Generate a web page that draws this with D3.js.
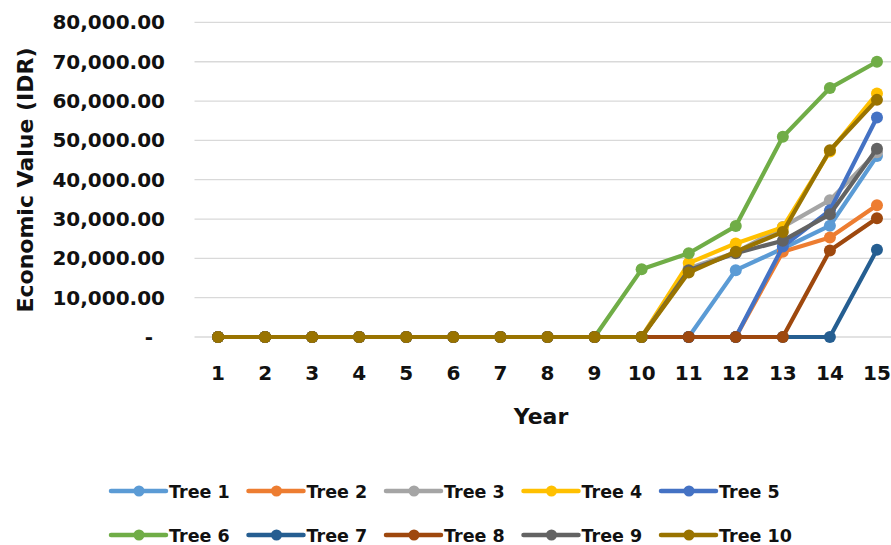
<!DOCTYPE html>
<html>
<head>
<meta charset="utf-8">
<script src="https://cdn.jsdelivr.net/npm/d3@7"></script>
<style>
  html, body { margin: 0; padding: 0; background: #fff; }
  svg { display: block; }
  text { font-family: "DejaVu Sans", sans-serif; font-weight: bold; fill: #111; }
</style>
</head>
<body>
<svg id="chart" width="891" height="545"></svg>
<script>
// Economic value per tree over 15 years (IDR)
const years = [1, 2, 3, 4, 5, 6, 7, 8, 9, 10, 11, 12, 13, 14, 15];
const yTicks = [0, 10000, 20000, 30000, 40000, 50000, 60000, 70000, 80000];

const treeNames = ["Tree 1", "Tree 2", "Tree 3", "Tree 4", "Tree 5",
                   "Tree 6", "Tree 7", "Tree 8", "Tree 9", "Tree 10"];
const treeColors = ["#5B9BD5", "#ED7D31", "#A5A5A5", "#FFC000", "#4472C4",
                    "#70AD47", "#255E91", "#9E480E", "#636363", "#997300"];

const tree1  = [0, 0, 0, 0, 0, 0, 0, 0, 0, 0, 0, 17000, 22500, 28300, 46000];
const tree2  = [0, 0, 0, 0, 0, 0, 0, 0, 0, 0, 0, 0, 21700, 25300, 33500];
const tree3  = [0, 0, 0, 0, 0, 0, 0, 0, 0, 0, 17500, 21500, 28000, 34800, 47000];
const tree4  = [0, 0, 0, 0, 0, 0, 0, 0, 0, 0, 18800, 23800, 27900, 47200, 61900];
const tree5  = [0, 0, 0, 0, 0, 0, 0, 0, 0, 0, 0, 0, 23000, 32200, 55800];
const tree6  = [0, 0, 0, 0, 0, 0, 0, 0, 0, 17200, 21300, 28200, 50900, 63300, 70000];
const tree7  = [0, 0, 0, 0, 0, 0, 0, 0, 0, 0, 0, 0, 0, 0, 22200];
const tree8  = [0, 0, 0, 0, 0, 0, 0, 0, 0, 0, 0, 0, 0, 22000, 30200];
const tree9  = [0, 0, 0, 0, 0, 0, 0, 0, 0, 0, 17000, 21300, 24500, 31200, 47900];
const tree10 = [0, 0, 0, 0, 0, 0, 0, 0, 0, 0, 16400, 21700, 26700, 47500, 60300];

const treeValues = [tree1, tree2, tree3, tree4, tree5, tree6, tree7, tree8, tree9, tree10];

const series = treeNames.map((name, i) => ({
  name,
  color: treeColors[i],
  points: years.map((yr, j) => ({ year: yr, value: treeValues[i][j] }))
}));

const svg = d3.select("#chart");
const plot = { left: 194.5, right: 900.5, top: 22.4, bottom: 337 };

const x = d3.scaleBand()
  .domain(years)
  .range([plot.left, plot.right]);
const cx = d => x(d) + x.bandwidth() / 2;

const y = d3.scaleLinear()
  .domain([0, 80000])
  .range([plot.bottom, plot.top]);

// Horizontal gridlines
svg.append("g")
  .selectAll("line")
  .data(yTicks)
  .join("line")
  .attr("x1", plot.left)
  .attr("x2", plot.right)
  .attr("y1", d => y(d))
  .attr("y2", d => y(d))
  .attr("stroke", "#d9d9d9")
  .attr("stroke-width", 1.3);

// Y axis labels (accounting style: zero shown as a dash)
const fmt = d3.format(",.2f");
const yAxis = d3.axisLeft(y)
  .tickValues(yTicks)
  .tickSize(0)
  .tickPadding(0)
  .tickFormat(d => d === 0 ? "-" : fmt(d));
const gy = svg.append("g")
  .attr("transform", `translate(165,0)`)
  .call(yAxis);
gy.select(".domain").remove();
gy.selectAll("text")
  .attr("font-family", "DejaVu Sans")
  .attr("font-weight", "bold")
  .attr("font-size", 20)
  .attr("fill", "#111")
  .attr("dx", d => d === 0 ? -12 : 0);

// X axis labels
const xAxis = d3.axisBottom(x).tickSize(0).tickPadding(0);
const gx = svg.append("g")
  .attr("transform", `translate(0,${plot.bottom})`)
  .call(xAxis);
gx.select(".domain").remove();
gx.selectAll("text")
  .attr("font-family", "DejaVu Sans")
  .attr("font-weight", "bold")
  .attr("font-size", 20)
  .attr("fill", "#111")
  .attr("dy", 0)
  .attr("y", 43);

// Axis titles
svg.append("text")
  .attr("x", 541)
  .attr("y", 424)
  .attr("text-anchor", "middle")
  .attr("font-size", 22)
  .text("Year");

svg.append("text")
  .attr("transform", "translate(33,180) rotate(-90)")
  .attr("text-anchor", "middle")
  .attr("font-size", 22)
  .text("Economic Value (IDR)");

// Series lines and markers
const line = d3.line()
  .x(d => cx(d.year))
  .y(d => y(d.value));

const gSeries = svg.append("g")
  .selectAll("g")
  .data(series)
  .join("g");

gSeries.append("path")
  .attr("d", d => line(d.points))
  .attr("fill", "none")
  .attr("stroke", d => d.color)
  .attr("stroke-width", 4.2)
  .attr("stroke-linejoin", "round");

gSeries.selectAll("circle")
  .data(d => d.points.map(p => ({ ...p, color: d.color })))
  .join("circle")
  .attr("cx", d => cx(d.year))
  .attr("cy", d => y(d.value))
  .attr("r", 6)
  .attr("fill", d => d.color);

// Legend: two rows of five
const legend = svg.append("g");
const items = legend.selectAll("g")
  .data(series)
  .join("g")
  .attr("transform", (d, i) => `translate(${111 + (i % 5) * 137.5},${i < 5 ? 491 : 535})`);

items.append("line")
  .attr("x1", 0).attr("x2", 55)
  .attr("y1", 0).attr("y2", 0)
  .attr("stroke", d => d.color)
  .attr("stroke-width", 4.5)
  .attr("stroke-linecap", "round");

items.append("circle")
  .attr("cx", 28)
  .attr("cy", 0)
  .attr("r", 5.5)
  .attr("fill", d => d.color);

items.append("text")
  .attr("x", 58)
  .attr("y", 6.5)
  .attr("font-size", 17.5)
  .attr("fill", "#1f1f1f")
  .text(d => d.name);
</script>
</body>
</html>
